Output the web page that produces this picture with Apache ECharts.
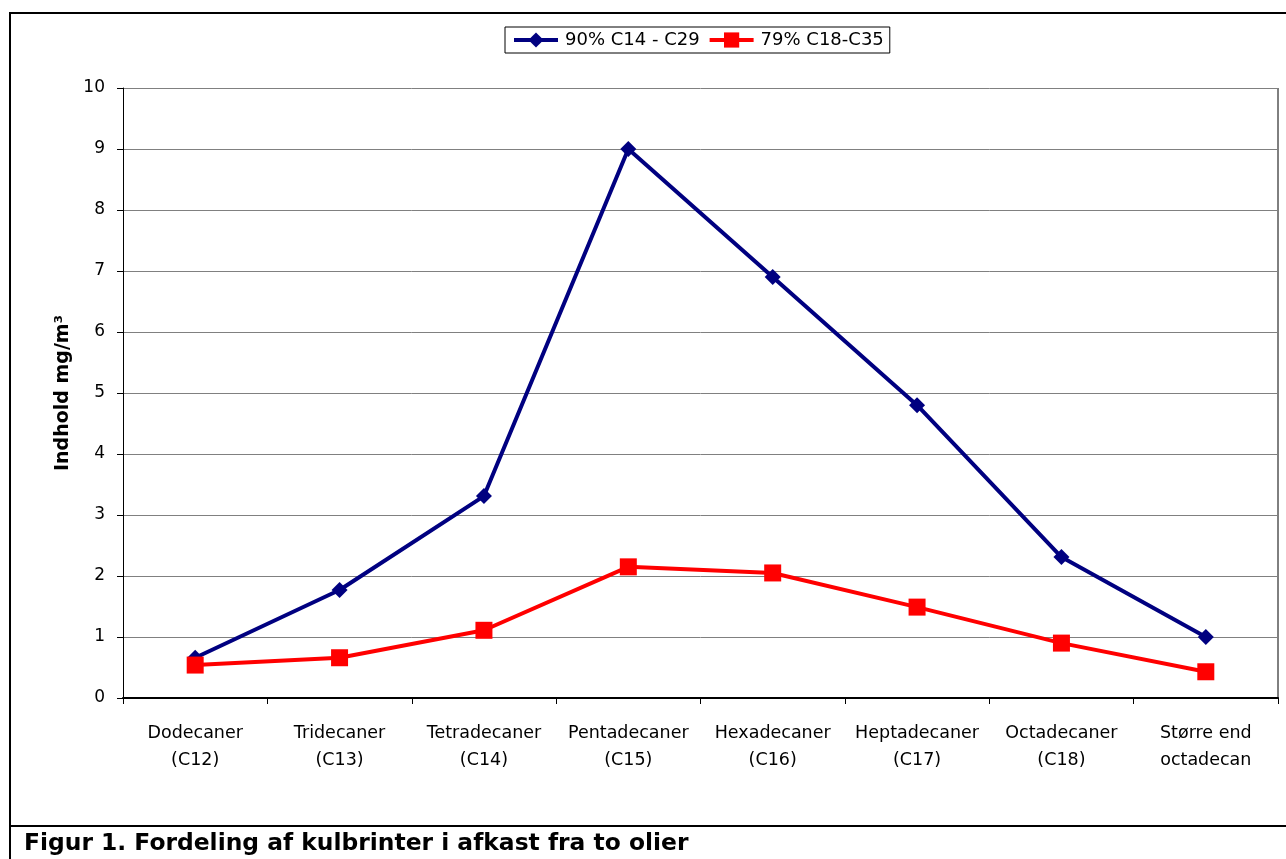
<!DOCTYPE html>
<html>
<head>
<meta charset="utf-8">
<script src="https://cdn.jsdelivr.net/npm/echarts@6/dist/echarts.min.js"></script>
<style>
html,body{margin:0;padding:0;background:#fff;}
#chart{width:1286px;height:859px;}
</style>
</head>
<body>
<div id="chart"></div>
<script>
const categories = ['Dodecaner\n(C12)', 'Tridecaner\n(C13)', 'Tetradecaner\n(C14)', 'Pentadecaner\n(C15)', 'Hexadecaner\n(C16)', 'Heptadecaner\n(C17)', 'Octadecaner\n(C18)', 'Større end\noctadecan'];
const series1Name = '90% C14 - C29';
const series1 = [0.66, 1.77, 3.31, 9.0, 6.9, 4.8, 2.31, 1.0];
const series2Name = '79% C18-C35';
const series2 = [0.54, 0.66, 1.11, 2.15, 2.05, 1.49, 0.9, 0.43];
const yTicks = [0, 1, 2, 3, 4, 5, 6, 7, 8, 9, 10];
const yAxisName = 'Indhold mg/m³';
const caption = 'Figur 1. Fordeling af kulbrinter i afkast fra to olier';

const FONT = 'DejaVu Sans';
const chart = echarts.init(document.getElementById('chart'));
chart.setOption({
  backgroundColor: '#fff',
  animation: false,
  textStyle: { fontFamily: FONT, color: '#000' },
  legend: {
    top: 27,
    left: 505,
    padding: [4, 6, 4, 7],
    itemGap: 8,
    itemWidth: 44,
    itemHeight: 19,
    borderColor: '#000',
    borderWidth: 1,
    backgroundColor: '#fff',
    lineStyle: { width: 4 },
    textStyle: { fontFamily: FONT, fontSize: 18, color: '#000', padding: [0, 0, 0, 2] },
    data: [series1Name, series2Name]
  },
  grid: { left: 123, right: 8, top: 88, bottom: 161, containLabel: false },
  xAxis: {
    type: 'category',
    data: categories,
    boundaryGap: true,
    axisLine: { lineStyle: { color: '#000', width: 2 } },
    axisTick: { show: true, alignWithLabel: false, length: 6, lineStyle: { color: '#000' } },
    axisLabel: { fontFamily: FONT, fontSize: 17.5, color: '#000', margin: 22, lineHeight: 27, interval: 0 },
    splitLine: { show: false }
  },
  yAxis: {
    type: 'value',
    min: 0,
    max: yTicks[yTicks.length - 1],
    interval: 1,
    name: yAxisName,
    nameLocation: 'middle',
    nameGap: 50,
    nameRotate: 90,
    nameTextStyle: { fontFamily: FONT, fontSize: 19, fontWeight: 'bold', color: '#000' },
    axisLine: { show: true, lineStyle: { color: '#000', width: 1 } },
    axisTick: { show: true, length: 6, lineStyle: { color: '#000' } },
    axisLabel: { fontFamily: FONT, fontSize: 17, color: '#000', margin: 18 },
    splitLine: { show: true, lineStyle: { color: '#808080', width: 1 } }
  },
  series: [
    {
      name: series1Name,
      type: 'line',
      data: series1,
      symbol: 'diamond',
      symbolSize: 16,
      lineStyle: { color: '#000080', width: 4 },
      itemStyle: { color: '#000080' },
      z: 3
    },
    {
      name: series2Name,
      type: 'line',
      data: series2,
      symbol: 'rect',
      symbolSize: 17,
      lineStyle: { color: '#ff0000', width: 4 },
      itemStyle: { color: '#ff0000' },
      z: 4
    }
  ],
  graphic: [
    {
      type: 'rect',
      shape: { x: 10, y: 13, width: 1300, height: 900 },
      style: { fill: 'none', stroke: '#000', lineWidth: 2 },
      silent: true
    },
    {
      type: 'line',
      shape: { x1: 10, y1: 826, x2: 1300, y2: 826 },
      style: { stroke: '#000', lineWidth: 2 },
      silent: true
    },
    {
      type: 'line',
      shape: { x1: 1278, y1: 88, x2: 1278, y2: 698 },
      style: { stroke: '#000', lineWidth: 1 },
      silent: true
    },
    {
      type: 'text',
      left: 24,
      top: 832,
      style: { text: caption, font: 'bold 23.4px "DejaVu Sans"', fill: '#000' },
      silent: true
    }
  ]
});
</script>
</body>
</html>
